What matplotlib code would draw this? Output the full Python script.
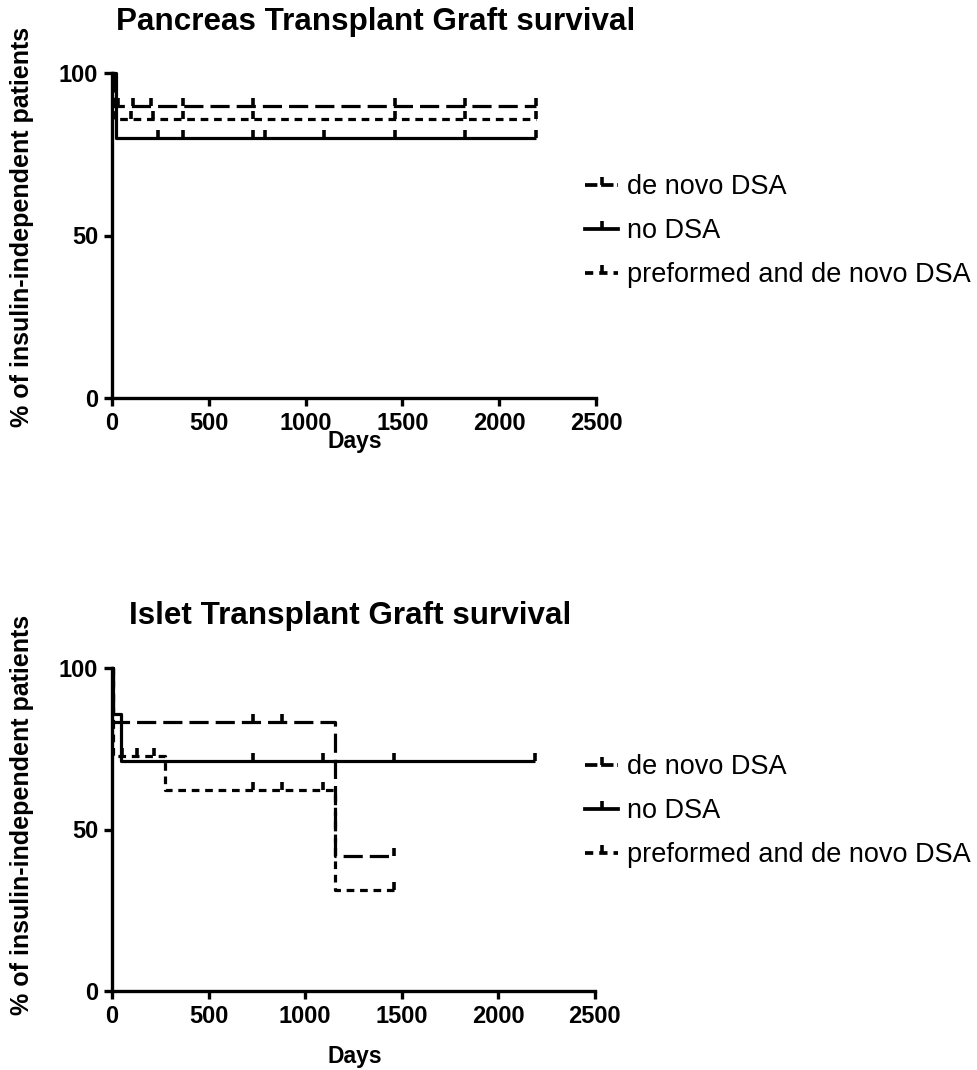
import numpy as np
import matplotlib
matplotlib.use("Agg")
import matplotlib.pyplot as plt

labels = ["de novo DSA", "no DSA", "preformed and de novo DSA"]

# Pancreas (top)
p_denovo_t = [0, 10, 2190]
p_denovo_s = [100, 90, 90]
p_denovo_c = [30, 110, 200, 365, 730, 1460, 1825, 2190]
p_no_t = [0, 20, 2190]
p_no_s = [100, 80, 80]
p_no_c = [240, 365, 730, 790, 1095, 1460, 1825, 2190]
p_pre_t = [0, 10, 2190]
p_pre_s = [100, 85.7, 85.7]
p_pre_c = [20, 100, 210, 365, 730, 1460, 1825, 2190]

# Islet (bottom)
i_denovo_t = [0, 5, 1155, 1460]
i_denovo_s = [100, 83.3, 41.7, 41.7]
i_denovo_c = [730, 880, 1460]
i_no_t = [0, 5, 45, 2190]
i_no_s = [100, 85.7, 71.4, 71.4]
i_no_c = [730, 1095, 1460, 2190]
i_pre_t = [0, 5, 275, 1155, 1460]
i_pre_s = [100, 72.7, 62.3, 31.2, 31.2]
i_pre_c = [50, 130, 220, 730, 880, 1095, 1460]

x_ticks = [0, 500, 1000, 1500, 2000, 2500]
y_ticks = [0, 50, 100]

W, H = 977, 1070
fig = plt.figure(figsize=(W/100, H/100), dpi=100)
FONT = 'Liberation Sans'

LW = 2.3
styles = {
    "de novo DSA": (0, (6, 2.2)),
    "no DSA": '-',
    "preformed and de novo DSA": (0, (2.4, 1.8)),
}
legend_styles = {
    "de novo DSA": (0, (3.3, 1.0)),
    "no DSA": '-',
    "preformed and de novo DSA": (0, (2.2, 1.6)),
}

def level(t, s, c):
    t = np.asarray(t, float); s = np.asarray(s, float)
    idx = np.searchsorted(t, c, side='right') - 1
    return s[np.clip(idx, 0, len(s)-1)]

def panel(rect, series, title, title_xy, ylab_y, xlab_y, leg_y):
    ax = fig.add_axes(rect)
    handles = []
    for lab, (t, s, c) in zip(labels, series):
        ls = styles[lab]
        ax.step(t, s, where='post', color='black', lw=LW, ls=ls,
                solid_capstyle='butt', dash_capstyle='butt', clip_on=False)
        ax.plot(c, level(t, s, c), ls='none', marker=2, ms=6, mew=2.6,
                color='black', clip_on=False)
        h, = ax.plot([], [], color='black', lw=LW + 0.4, ls=legend_styles[lab],
                     marker=2, ms=6, mew=2.6, label=lab)
        handles.append(h)
    ax.set_xlim(0, 2500)
    ax.set_ylim(0, 100)
    ax.set_xticks(x_ticks)
    ax.set_yticks(y_ticks)
    for sp in ['top', 'right']:
        ax.spines[sp].set_visible(False)
    for sp in ['left', 'bottom']:
        ax.spines[sp].set_linewidth(2.4)
        ax.spines[sp].set_capstyle('projecting')
    ax.tick_params(direction='out', length=6, width=2.4, pad=4)
    for lbl in ax.get_xticklabels() + ax.get_yticklabels():
        lbl.set_fontfamily(FONT)
        lbl.set_fontweight('bold')
        lbl.set_fontsize(17)
    fig.text(title_xy[0], title_xy[1], title, ha='center', va='center',
             fontsize=22.6, fontweight='bold', family=FONT)
    fig.text(22/W, ylab_y, "% of insulin-independent patients", rotation=90,
             ha='center', va='center', fontsize=18, fontweight='bold',
             family=FONT)
    fig.text(355/W, xlab_y, "Days", ha='center', va='center', fontsize=16.5,
             fontweight='bold', family=FONT)
    fig.legend(handles=handles, loc='upper left',
               bbox_to_anchor=(585/W, leg_y), frameon=False, borderpad=0,
               borderaxespad=0, handlelength=1.22, handletextpad=0.33,
               labelspacing=0.67, prop={'family': FONT, 'size': 19.5})
    return ax

panel([112/W, (H-398)/H, 484/W, 325/H],
      [(p_denovo_t, p_denovo_s, p_denovo_c), (p_no_t, p_no_s, p_no_c),
       (p_pre_t, p_pre_s, p_pre_c)],
      "Pancreas Transplant Graft survival", (376/W, 1-22/H),
      1-227/H, 1-441/H, 1-174/H)
panel([112/W, (H-990.7)/H, 482.6/W, 322.4/H],
      [(i_denovo_t, i_denovo_s, i_denovo_c), (i_no_t, i_no_s, i_no_c),
       (i_pre_t, i_pre_s, i_pre_c)],
      "Islet Transplant Graft survival", (350/W, 1-616/H),
      1-815/H, 1-1057/H, 1-754/H)

fig.savefig("out.png", dpi=100)
